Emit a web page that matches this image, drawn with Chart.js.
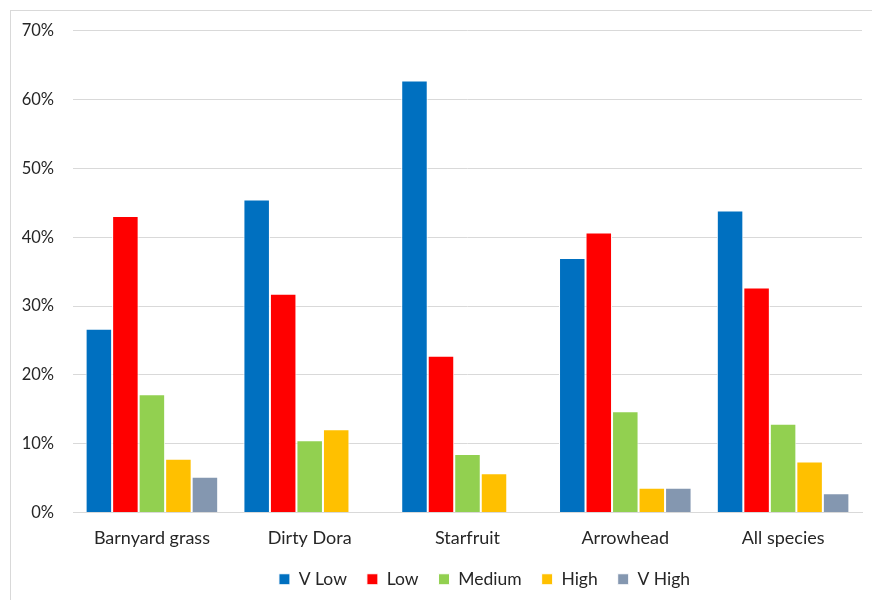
<!DOCTYPE html>
<html>
<head>
<meta charset="utf-8">
<script src="https://cdn.jsdelivr.net/npm/chart.js@4"></script>
<style>
    body { margin: 0; background: #fff; overflow: hidden; }
    #frame {
        position: absolute;
        left: 10px;
        top: 10px;
        width: 950px;
        height: 620px;
        border: 1px solid #d9d9d9;
        box-sizing: border-box;
    }
    #wrap { position: absolute; left: 0; top: -9px; width: 947px; height: 598px; }
</style>
</head>
<body>
<div id="frame">
    <div id="wrap"><canvas id="chart"></canvas></div>
</div>
<script>
// Chart data (percent)
const categories = ['Barnyard grass', 'Dirty Dora', 'Starfruit', 'Arrowhead', 'All species'];
const vLow    = [26.7, 45.5, 62.8, 37.0, 43.9];
const low     = [43.1, 31.8, 22.8, 40.7, 32.7];
const medium  = [17.2, 10.5, 8.5, 14.7, 12.9];
const high    = [7.8, 12.1, 5.7, 3.6, 7.4];
const vHigh   = [5.2, 0, 0, 3.6, 2.8];
const yTicks  = [0, 10, 20, 30, 40, 50, 60, 70];

const fontFamily = 'Lato, "Open Sans", sans-serif';
const textColor = '#262626';
const gridColor = '#d9d9d9';

function makeSet(label, data, color) {
    return {
        label: label,
        data: data,
        backgroundColor: color,
        borderColor: '#ffffff',
        borderWidth: 1,
        categoryPercentage: 0.84,
        barPercentage: 1.0
    };
}

document.addEventListener('DOMContentLoaded', function() {
    const ctx = document.getElementById('chart').getContext('2d');
    new Chart(ctx, {
        type: 'bar',
        data: {
            labels: categories,
            datasets: [
                makeSet('V Low', vLow, '#0070c0'),
                makeSet('Low', low, '#ff0000'),
                makeSet('Medium', medium, '#92d050'),
                makeSet('High', high, '#ffc000'),
                makeSet('V High', vHigh, '#8497b0')
            ]
        },
        options: {
            responsive: true,
            maintainAspectRatio: false,
            animation: false,
            layout: {
                padding: { left: 0, right: 0, top: 0, bottom: 2 }
            },
            plugins: {
                legend: {
                    position: 'bottom',
                    labels: {
                        boxWidth: 11,
                        boxHeight: 11,
                        padding: 20,
                        color: textColor,
                        font: { family: fontFamily, size: 17.5 }
                    }
                },
                tooltip: { enabled: false }
            },
            scales: {
                x: {
                    grid: { display: false, drawTicks: false },
                    border: { color: gridColor },
                    // keep the labels but pull the legend closer
                    afterFit: function(axis) { axis.height = 38; },
                    ticks: {
                        color: textColor,
                        padding: 15,
                        font: { family: fontFamily, size: 18 }
                    }
                },
                y: {
                    min: 0,
                    max: 70,
                    afterBuildTicks: function(axis) {
                        axis.ticks = yTicks.map(v => ({ value: v }));
                    },
                    afterFit: function(axis) { axis.width = 62; },
                    grid: { color: gridColor, drawTicks: false },
                    border: { display: false },
                    ticks: {
                        color: textColor,
                        padding: 19,
                        font: { family: fontFamily, size: 16.5 },
                        callback: function(value) {
                            return value + '%';
                        }
                    }
                },
                // empty right-hand space, like the original chart box
                yRight: {
                    position: 'right',
                    display: true,
                    grid: { display: false },
                    border: { display: false },
                    ticks: { display: false },
                    afterFit: function(axis) { axis.width = 96; }
                }
            }
        }
    });
});
</script>
</body>
</html>
